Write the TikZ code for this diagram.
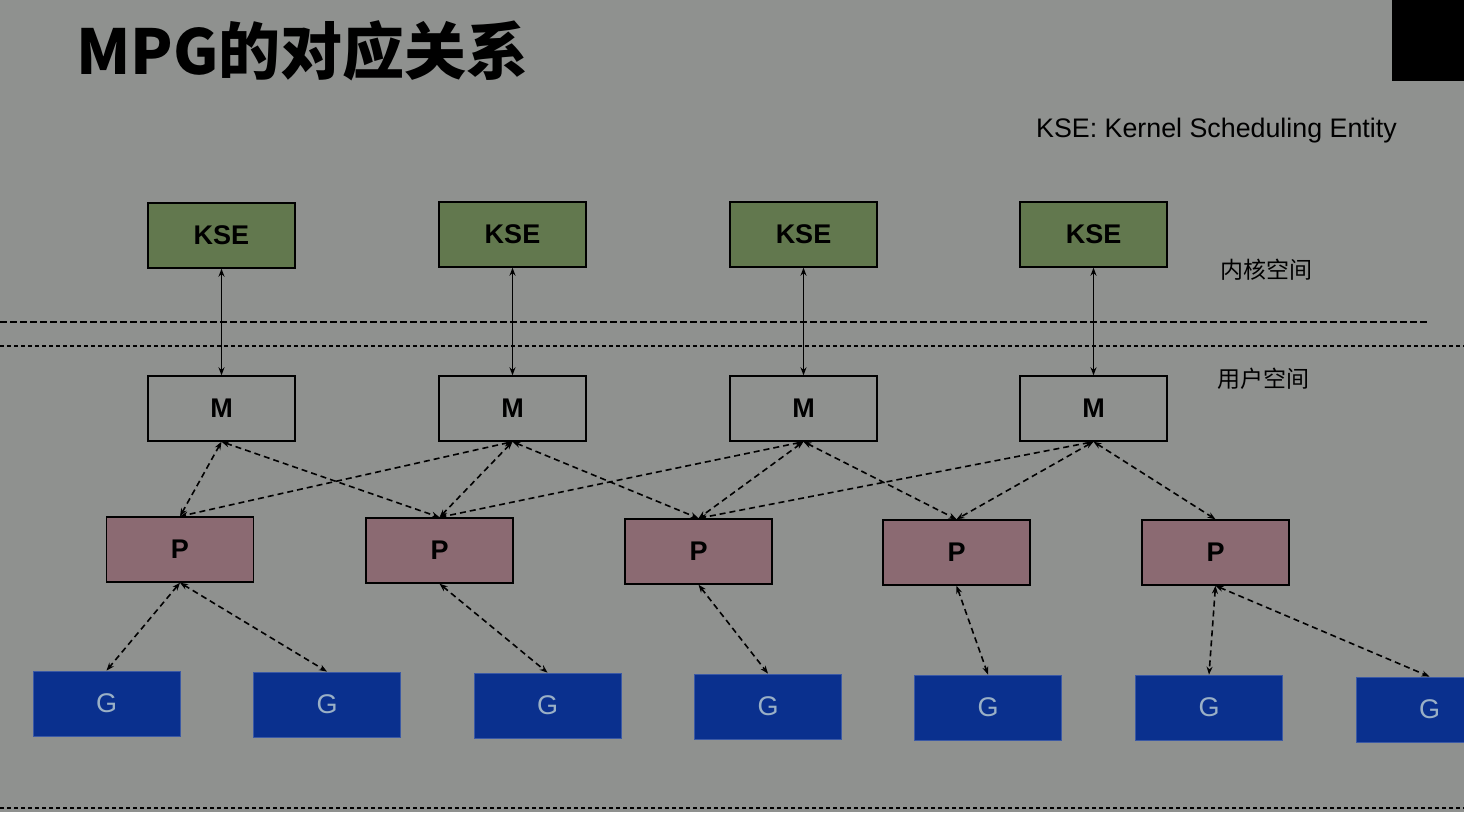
\documentclass[tikz,border=0pt]{standalone}
\usepackage{fontspec}
\setmainfont{Liberation Sans}
\newfontfamily\cjk{Noto Sans CJK SC}
\usetikzlibrary{arrows.meta}
\definecolor{bg}{RGB}{143,145,143}
\definecolor{ksefill}{RGB}{98,120,78}
\definecolor{pfill}{RGB}{139,106,114}
\definecolor{gfill}{RGB}{10,48,142}
\definecolor{gtext}{RGB}{154,176,198}
\tikzset{
  box/.style={draw=black, line width=1.4pt, minimum width=147pt, minimum height=65pt, inner sep=0pt,
    font=\fontsize{27}{30}\selectfont\bfseries},
  ksebox/.style={box, fill=ksefill},
  mbox/.style={box},
  pbox/.style={box, fill=pfill},
  gbox/.style={box, draw=gfill!80!white, line width=0.8pt, fill=gfill, text=gtext, font=\fontsize{27}{30}\selectfont},
  solidlink/.style={<->, line width=1.8pt, >={Stealth[length=8pt,width=6pt]}},
  dashlink/.style={<->, line width=1.6pt, dash pattern=on 6pt off 4pt, >={Stealth[length=8pt,width=6pt]}},
  sep/.style={line width=1.2pt}
}
\begin{document}
\begin{tikzpicture}[x=1pt,y=-1pt]
\fill[bg] (0,0) rectangle (1464,812);
\useasboundingbox (0,0) rectangle (1464,812);
\fill[black] (1392,0) rectangle (1464,81);

\node[anchor=west, inner sep=0pt, font=\cjk\bfseries\fontsize{62}{68}\selectfont] (title) at (76,51) {MPG的对应关系};
\node[anchor=west, inner sep=0pt, font=\fontsize{26.8}{30}\selectfont] (legend) at (1036,131) {KSE: Kernel Scheduling Entity};
\node[inner sep=0pt, font=\cjk\fontsize{23}{26}\selectfont] (kspace) at (1266,270) {内核空间};
\node[inner sep=0pt, font=\cjk\fontsize{23}{26}\selectfont] (uspace) at (1263,379) {用户空间};

\coordinate (l1a) at (0,322); \coordinate (l1b) at (1430,322);
\coordinate (l2a) at (0,346); \coordinate (l2b) at (1464,346);
\coordinate (l3a) at (0,808); \coordinate (l3b) at (1464,808);
\draw[sep, dash pattern=on 7pt off 3pt] (l1a) -- (l1b);
\draw[sep, dash pattern=on 4pt off 3pt] (l2a) -- (l2b);
\draw[sep, dash pattern=on 4pt off 3pt] (l3a) -- (l3b);

\node[ksebox] (k1) at (221.5,235.5) {KSE};
\node[ksebox] (k2) at (512.5,234.5) {KSE};
\node[ksebox] (k3) at (803.5,234.5) {KSE};
\node[ksebox] (k4) at (1093.5,234.5) {KSE};

\node[mbox] (m1) at (221.5,408.5) {M};
\node[mbox] (m2) at (512.5,408.5) {M};
\node[mbox] (m3) at (803.5,408.5) {M};
\node[mbox] (m4) at (1093.5,408.5) {M};

\node[pbox] (p1) at (180,549.5) {P};
\node[pbox] (p2) at (439.5,550.5) {P};
\node[pbox] (p3) at (698.5,551.5) {P};
\node[pbox] (p4) at (956.5,552.5) {P};
\node[pbox] (p5) at (1215.5,552.5) {P};

\node[gbox] (g1) at (106.5,703.5) {G};
\node[gbox] (g2) at (327,704.5) {G};
\node[gbox] (g3) at (547.5,705.5) {G};
\node[gbox] (g4) at (768,706.5) {G};
\node[gbox] (g5) at (988,707.5) {G};
\node[gbox] (g6) at (1209,707.5) {G};
\node[gbox] (g7) at (1429.5,709.5) {G};

\foreach \i in {1,2,3,4} \draw[solidlink] (k\i.south) -- (m\i.north);

\draw[dashlink] (m1.south) -- (p1.north);
\draw[dashlink] (m1.south) -- (p2.north);
\draw[dashlink] (m2.south) -- (p1.north);
\draw[dashlink] (m2.south) -- (p2.north);
\draw[dashlink] (m2.south) -- (p3.north);
\draw[dashlink] (m3.south) -- (p2.north);
\draw[dashlink] (m3.south) -- (p3.north);
\draw[dashlink] (m3.south) -- (p4.north);
\draw[dashlink] (m4.south) -- (p3.north);
\draw[dashlink] (m4.south) -- (p4.north);
\draw[dashlink] (m4.south) -- (p5.north);

\draw[dashlink] (p1.south) -- (g1.north);
\draw[dashlink] (p1.south) -- (g2.north);
\draw[dashlink] (p2.south) -- (g3.north);
\draw[dashlink] (p3.south) -- (g4.north);
\draw[dashlink] (p4.south) -- (g5.north);
\draw[dashlink] (p5.south) -- (g6.north);
\draw[dashlink] (p5.south) -- (g7.north);
\end{tikzpicture}
\end{document}
